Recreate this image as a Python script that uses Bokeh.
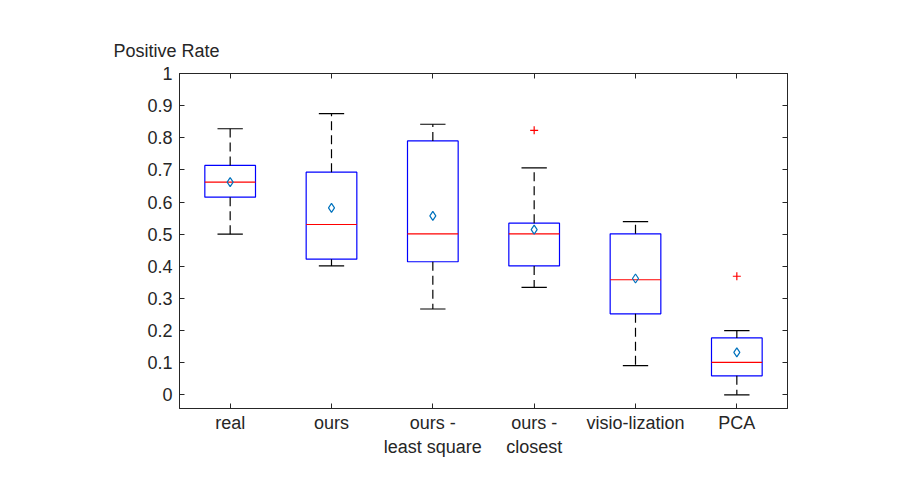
from bokeh.plotting import figure
from bokeh.models import Range1d, LinearAxis, FixedTicker, CustomJSTickFormatter
from bokeh.embed import file_html
from bokeh.resources import INLINE

# ---- data ----
categories = ["real", "ours", "ours -\nleast square", "ours -\nclosest", "visio-lization", "PCA"]
positions = [1, 2, 3, 4, 5, 6]
lower_whisker = [0.500, 0.401, 0.267, 0.334, 0.091, 0.000]
q1 = [0.615, 0.422, 0.414, 0.401, 0.252, 0.059]
median = [0.662, 0.530, 0.501, 0.501, 0.358, 0.101]
q3 = [0.714, 0.693, 0.790, 0.534, 0.501, 0.177]
upper_whisker = [0.828, 0.875, 0.842, 0.706, 0.539, 0.200]
means = [0.662, 0.582, 0.557, 0.514, 0.362, 0.132]
outlier_position = [4, 6]
outlier_value = [0.823, 0.369]
y_ticks = [0, 0.1, 0.2, 0.3, 0.4, 0.5, 0.6, 0.7, 0.8, 0.9, 1]
y_title = "Positive Rate"

# ---- style ----
FONT = "Liberation Sans"
FS = "18px"
AX = "#262626"
BOX_HALF = 0.25
CAP_HALF = 0.125

p = figure(width=900, height=494,
           x_range=Range1d(0.5, 6.5), y_range=Range1d(-0.0427, 1.0),
           output_backend="svg", toolbar_location=None,
           min_border_left=179, min_border_right=113,
           min_border_top=73, min_border_bottom=86,
           x_axis_type=None, y_axis_type=None)
p.xgrid.visible = False
p.ygrid.visible = False
p.background_fill_color = "white"
p.border_fill_color = "white"
p.outline_line_color = AX
p.outline_line_width = 1

p.title.text = y_title
p.title.align = "left"
p.title.offset = -66
p.title.standoff = 25
p.title.text_font = FONT
p.title.text_font_size = FS
p.title.text_font_style = "normal"
p.title.text_color = AX


def style_axis(ax, labels=True):
    ax.axis_line_color = AX
    ax.major_tick_line_color = AX
    ax.major_tick_in = 5
    ax.major_tick_out = 0
    ax.minor_tick_line_color = None
    ax.major_label_text_font = FONT
    ax.major_label_text_font_size = FS
    ax.major_label_text_color = AX
    if not labels:
        ax.formatter = CustomJSTickFormatter(code="return ''")


left = LinearAxis(ticker=FixedTicker(ticks=y_ticks))
style_axis(left)
left.major_label_overrides = {0: "0", 1: "1"}
left.major_label_standoff = 7
p.add_layout(left, "left")

right = LinearAxis(ticker=FixedTicker(ticks=y_ticks))
style_axis(right, labels=False)
p.add_layout(right, "right")

bottom = LinearAxis(ticker=FixedTicker(ticks=positions))
style_axis(bottom)
bottom.major_label_overrides = {pos: cat for pos, cat in zip(positions, categories)}
bottom.major_label_standoff = 4
p.add_layout(bottom, "below")

top = LinearAxis(ticker=FixedTicker(ticks=positions))
style_axis(top, labels=False)
p.add_layout(top, "above")

# ---- boxes ----
p.vbar(x=positions, width=2 * BOX_HALF, bottom=q1, top=q3,
       fill_color=None, line_color="#0000ff", line_width=1.2)

# whiskers (dashed)
p.segment(x0=positions, y0=q3, x1=positions, y1=upper_whisker,
          line_color="black", line_dash="9 5", line_width=1.2)
p.segment(x0=positions, y0=q1, x1=positions, y1=lower_whisker,
          line_color="black", line_dash="9 5", line_width=1.2)

# caps
cap_l = [x - CAP_HALF for x in positions]
cap_r = [x + CAP_HALF for x in positions]
p.segment(x0=cap_l, y0=upper_whisker, x1=cap_r, y1=upper_whisker,
          line_color="black", line_width=1.2)
p.segment(x0=cap_l, y0=lower_whisker, x1=cap_r, y1=lower_whisker,
          line_color="black", line_width=1.2)

# medians
box_l = [x - BOX_HALF for x in positions]
box_r = [x + BOX_HALF for x in positions]
p.segment(x0=box_l, y0=median, x1=box_r, y1=median,
          line_color="#ff0000", line_width=1.2)

# means
p.scatter(positions, means, marker="diamond", size=9,
          fill_color=None, line_color="#0072BD", line_width=1.2)

# outliers
p.scatter(outlier_position, outlier_value, marker="cross", size=8,
          line_color="#ff0000", line_width=1.2)

open("out.html", "w").write(file_html(p, INLINE))
